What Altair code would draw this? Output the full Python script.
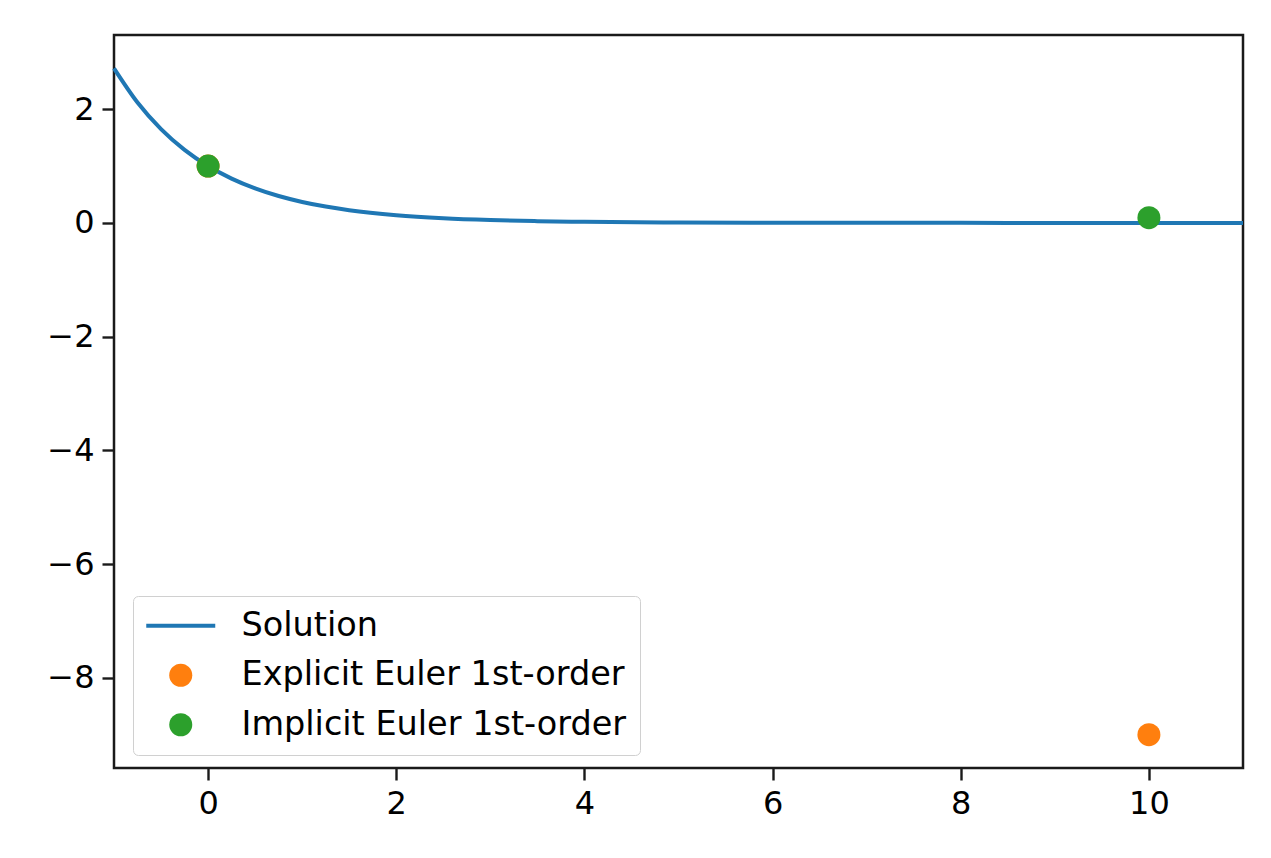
import altair as alt
import pandas as pd

# Exact solution y(t) sampled along the curve
sol_t = [-1.0, -0.75, -0.5, -0.25, 0.0, 0.25, 0.5, 0.75, 1.0, 1.25, 1.5, 2.0,
         2.5, 3.0, 3.5, 4.0, 5.0, 6.0, 7.0, 8.0, 9.0, 10.0, 11.0]
sol_y = [2.718, 2.117, 1.649, 1.284, 1.0, 0.779, 0.607, 0.472, 0.368, 0.287,
         0.223, 0.135, 0.082, 0.050, 0.030, 0.018, 0.007, 0.0025, 0.0009,
         0.0003, 0.0001, 0.00005, 0.00002]

# One step of size h = 10 from y(0) = 1
explicit_t = [0, 10]
explicit_y = [1.0, -9.0]
implicit_t = [0, 10]
implicit_y = [1.0, 0.0909]

series = ["Solution", "Explicit Euler 1st-order", "Implicit Euler 1st-order"]
colors = ["#1f77b4", "#ff7f0e", "#2ca02c"]

x_domain = [-1, 11]
y_domain = [-9.586, 3.304]
x_ticks = [0, 2, 4, 6, 8, 10]
y_ticks = [-8, -6, -4, -2, 0, 2]

sol_df = pd.DataFrame({"t": sol_t, "y": sol_y, "series": series[0]})
pts_df = pd.concat([
    pd.DataFrame({"t": explicit_t, "y": explicit_y, "series": series[1]}),
    pd.DataFrame({"t": implicit_t, "y": implicit_y, "series": series[2]}),
], ignore_index=True)

FONT = "DejaVu Sans"
MARKER = 529  # circle marker: 23 px across
LINE_W = 4

is_sol = f"datum.value === '{series[0]}'"
fill_expr = (
    f"datum.value === '{series[1]}' ? '{colors[1]}' : "
    f"datum.value === '{series[2]}' ? '{colors[2]}' : 'transparent'"
)

legend = alt.Legend(
    title=None,
    orient="none",
    legendX=19,
    legendY=561,
    padding=13,
    fillColor="white",
    strokeColor="#d0d0d0",
    cornerRadius=5,
    labelFont=FONT,
    labelFontSize=33.5,
    labelColor="black",
    labelLimit=0,
    labelOffset=44,
    symbolSize=MARKER,
    symbolOffset=18,
    rowPadding=14.5,
    symbolOpacity=1,
    # a long horizontal stroke for the curve, filled dots for the two methods
    symbolType=alt.ExprRef(expr=f"{is_sol} ? 'M-3,0L3,0' : 'circle'"),
    symbolStrokeWidth=alt.ExprRef(expr=f"{is_sol} ? {LINE_W} : 0"),
    symbolStrokeColor=alt.ExprRef(expr=f"{is_sol} ? '{colors[0]}' : 'transparent'"),
    symbolFillColor=alt.ExprRef(expr=fill_expr),
)

color = alt.Color(
    "series:N",
    scale=alt.Scale(domain=series, range=colors),
    sort=series,
    legend=legend,
)

x_enc = alt.X(
    "t:Q",
    scale=alt.Scale(domain=x_domain, nice=False, zero=False),
    axis=alt.Axis(values=x_ticks, title=None, format="d"),
)
y_enc = alt.Y(
    "y:Q",
    scale=alt.Scale(domain=y_domain, nice=False, zero=False),
    axis=alt.Axis(values=y_ticks, title=None, format="d"),
)

line = alt.Chart(sol_df).mark_line(strokeWidth=LINE_W, interpolate="monotone").encode(
    x=x_enc, y=y_enc, color=color
)
points = alt.Chart(pts_df).mark_circle(size=MARKER, opacity=1).encode(
    x=x_enc, y=y_enc, color=color
)

chart = (
    alt.layer(line, points)
    .properties(
        width=1129,
        height=733,
        autosize=alt.AutoSizeParams(type="none"),
        padding={"left": 114, "top": 35, "right": 28, "bottom": 90},
        background="white",
    )
    .configure_view(stroke="#1a1a1a", strokeWidth=2.5)
    .configure_axis(
        grid=False,
        domain=False,
        tickColor="#1a1a1a",
        tickWidth=2.4,
        tickSize=12,
        labelFont=FONT,
        labelFontSize=32,
        labelColor="black",
        labelPadding=8,
    )
)

chart.save("out.html", embed_options={"renderer": "svg", "actions": False})
